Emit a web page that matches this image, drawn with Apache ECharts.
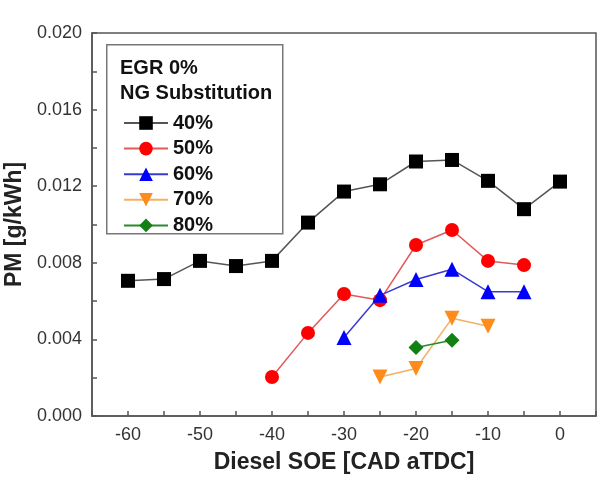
<!DOCTYPE html>
<html>
<head>
<meta charset="utf-8">
<script src="https://cdn.jsdelivr.net/npm/echarts@6/dist/echarts.min.js"></script>
<style>
  html, body { margin: 0; padding: 0; background: #fff; }
  #chart { width: 599px; height: 481px; }
</style>
</head>
<body>
<div id="chart"></div>
<script>
// Diesel SOE (CAD aTDC) per series, and PM (g/kWh)
var soe40 = [-60, -55, -50, -45, -40, -35, -30, -25, -20, -15, -10, -5, 0];
var pm40 = [0.00706, 0.00715, 0.0081, 0.00783, 0.0081, 0.0101, 0.01172, 0.0121, 0.01329, 0.01337, 0.01228, 0.0108, 0.01224];
var soe50 = [-40, -35, -30, -25, -20, -15, -10, -5];
var pm50 = [0.00204, 0.00434, 0.00637, 0.00605, 0.00893, 0.00971, 0.0081, 0.00788];
var soe60 = [-30, -25, -20, -15, -10, -5];
var pm60 = [0.0041, 0.0063, 0.00713, 0.00766, 0.00649, 0.00649];
var soe70 = [-25, -20, -15, -10];
var pm70 = [0.00204, 0.00248, 0.0051, 0.00469];
var soe80 = [-20, -15];
var pm80 = [0.00358, 0.00396];

var seriesNames = ['40%', '50%', '60%', '70%', '80%'];
var xTickLabels = [-60, -50, -40, -30, -20, -10, 0];

function pairs(xs, ys) {
    var out = [];
    for (var i = 0; i < xs.length; i++) {
        out.push([xs[i], ys[i]]);
    }
    return out;
}

var font = 'Liberation Sans, Arial, sans-serif';
var chart = echarts.init(document.getElementById('chart'));

function mkSeries(name, data, symbol, size, markerColor, lineColor) {
    return {
        name: name,
        type: 'line',
        data: data,
        symbol: symbol,
        symbolSize: size,
        showAllSymbol: true,
        itemStyle: { color: markerColor, opacity: 1 },
        lineStyle: { color: lineColor, width: 1.5 },
        emphasis: { disabled: true },
        animation: false
    };
}

var option = {
    backgroundColor: '#fff',
    grid: {
        left: 92, right: 3, top: 33, bottom: 65,
        outerBoundsMode: 'none',
        containLabel: false,
        show: true, borderColor: '#555', borderWidth: 1.5
    },
    xAxis: {
        type: 'value',
        min: -65, max: 5, interval: 5,
        name: 'Diesel SOE [CAD aTDC]',
        nameLocation: 'middle',
        nameGap: 35,
        nameTextStyle: { fontFamily: font, fontWeight: 'bold', fontSize: 23, color: '#222' },
        axisLine: { show: true, onZero: false, lineStyle: { color: '#555', width: 1.5 } },
        axisTick: { show: true, inside: true, length: 5, lineStyle: { color: '#555', width: 1.5 } },
        splitLine: { show: false },
        axisLabel: {
            fontFamily: font, fontSize: 18, color: '#333', margin: 10,
            formatter: function (v) {
                return xTickLabels.indexOf(Math.round(v)) >= 0 ? String(Math.round(v)) : '';
            }
        }
    },
    yAxis: {
        type: 'value',
        min: 0, max: 0.02, interval: 0.002,
        name: 'PM [g/kWh]',
        nameLocation: 'middle',
        nameGap: 60,
        nameTextStyle: { fontFamily: font, fontWeight: 'bold', fontSize: 23, color: '#222' },
        axisLine: { show: true, onZero: false, lineStyle: { color: '#555', width: 1.5 } },
        axisTick: { show: true, inside: true, length: 5, lineStyle: { color: '#555', width: 1.5 } },
        splitLine: { show: false },
        axisLabel: {
            fontFamily: font, fontSize: 18, color: '#333', margin: 10,
            formatter: function (v) {
                var m = Math.round(v * 1000);
                return m % 4 === 0 ? v.toFixed(3) : '';
            }
        }
    },
    legend: {
        data: seriesNames,
        orient: 'vertical',
        left: 118, top: 108,
        itemWidth: 44, itemHeight: 17, itemGap: 5.6,
        textStyle: { fontFamily: font, fontWeight: 'bold', fontSize: 20, color: '#111' }
    },
    graphic: [
        {
            type: 'rect', left: 106, top: 44, z: 0,
            shape: { width: 176, height: 189 },
            style: { fill: '#fff', stroke: '#777', lineWidth: 1.5 }
        },
        {
            type: 'text', left: 120, top: 58, z: 1,
            style: { text: 'EGR 0%', font: 'bold 20px ' + font, fill: '#111' }
        },
        {
            type: 'text', left: 120, top: 83, z: 1,
            style: { text: 'NG Substitution', font: 'bold 20px ' + font, fill: '#111' }
        }
    ],
    series: [
        mkSeries('40%', pairs(soe40, pm40), 'rect', 14, '#000', '#555'),
        mkSeries('50%', pairs(soe50, pm50), 'circle', 14, '#ff0000', '#e05a5a'),
        mkSeries('60%', pairs(soe60, pm60), 'triangle', 15, '#0000ff', '#3a3ad0'),
        mkSeries('70%', pairs(soe70, pm70), 'path://M0,0 L10,0 L5,9 Z', 15, '#ff8c1a', '#f2b063'),
        mkSeries('80%', pairs(soe80, pm80), 'diamond', 15, '#128012', '#2a8a2a')
    ]
};

chart.setOption(option);
</script>
</body>
</html>
